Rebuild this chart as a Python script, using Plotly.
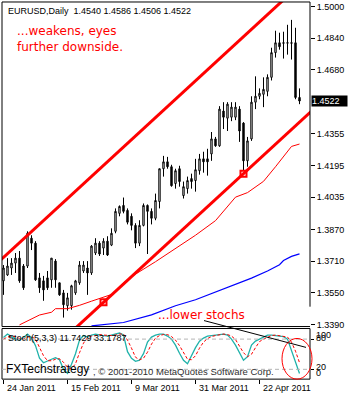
import plotly.graph_objects as go

# ---- EURUSD daily candles (bar index 0 = 24 Jan 2011) ----
opens = [1.3611, 1.3641, 1.3676, 1.3701, 1.3726, 1.3686, 1.3686, 1.3827, 1.3802, 1.3626,
         1.3611, 1.3626, 1.3616, 1.3711, 1.3601, 1.3550, 1.3485, 1.3485, 1.3550, 1.3601,
         1.3661, 1.3676, 1.3651, 1.3752, 1.3802, 1.3777, 1.3812, 1.3792, 1.3862, 1.3953,
         1.3993, 1.3968, 1.3938, 1.3892, 1.3802, 1.3892, 1.3993, 1.3963, 1.3928, 1.4013,
         1.4179, 1.4214, 1.4189, 1.4104, 1.4179, 1.4043, 1.4078, 1.4129, 1.4119, 1.4169,
         1.4229, 1.4229, 1.4254, 1.4330, 1.4295, 1.4471, 1.4435, 1.4440, 1.4440, 1.4481,
         1.4410, 1.4219, 1.4330, 1.4516, 1.4546, 1.4556, 1.4571, 1.4642, 1.4767, 1.4817,
         1.4817, 1.4815, 1.4817, 1.4817, 1.4540]
highs = [1.3691, 1.3726, 1.3726, 1.3752, 1.3762, 1.3696, 1.3862, 1.3842, 1.3812, 1.3651,
         1.3636, 1.3661, 1.3726, 1.3721, 1.3601, 1.3565, 1.3550, 1.3591, 1.3616, 1.3711,
         1.3711, 1.3711, 1.3792, 1.3827, 1.3812, 1.3827, 1.3837, 1.3877, 1.3978, 1.3993,
         1.4033, 1.3978, 1.3953, 1.3903, 1.3918, 1.4003, 1.3998, 1.3978, 1.4053, 1.4179,
         1.4244, 1.4239, 1.4199, 1.4179, 1.4194, 1.4114, 1.4139, 1.4154, 1.4229, 1.4254,
         1.4265, 1.4280, 1.4365, 1.4340, 1.4496, 1.4516, 1.4516, 1.4516, 1.4516, 1.4496,
         1.4415, 1.4340, 1.4546, 1.4647, 1.4586, 1.4642, 1.4657, 1.4792, 1.4878, 1.4868,
         1.4873, 1.4908, 1.4933, 1.4893, 1.4586]
lows = [1.3540, 1.3636, 1.3641, 1.3651, 1.3601, 1.3565, 1.3676, 1.3767, 1.3611, 1.3550,
        1.3510, 1.3565, 1.3576, 1.3576, 1.3535, 1.3425, 1.3460, 1.3465, 1.3540, 1.3591,
        1.3651, 1.3540, 1.3641, 1.3742, 1.3737, 1.3742, 1.3737, 1.3787, 1.3852, 1.3938,
        1.3953, 1.3897, 1.3867, 1.3777, 1.3787, 1.3887, 1.3747, 1.3897, 1.3918, 1.3978,
        1.4139, 1.4179, 1.4088, 1.4078, 1.4088, 1.4028, 1.4053, 1.4078, 1.4063, 1.4149,
        1.4159, 1.4144, 1.4219, 1.4290, 1.4290, 1.4380, 1.4370, 1.4420, 1.4425, 1.4315,
        1.4169, 1.4189, 1.4320, 1.4481, 1.4531, 1.4491, 1.4546, 1.4626, 1.4742, 1.4782,
        1.4737, 1.4757, 1.4732, 1.4531, 1.4506]
closes = [1.3676, 1.3686, 1.3701, 1.3726, 1.3611, 1.3576, 1.3852, 1.3802, 1.3616, 1.3576,
          1.3565, 1.3576, 1.3726, 1.3616, 1.3540, 1.3490, 1.3525, 1.3586, 1.3611, 1.3691,
          1.3691, 1.3651, 1.3787, 1.3802, 1.3747, 1.3812, 1.3742, 1.3852, 1.3963, 1.3988,
          1.3963, 1.3908, 1.3892, 1.3802, 1.3892, 1.3993, 1.3963, 1.3928, 1.4018, 1.4179,
          1.4214, 1.4189, 1.4093, 1.4169, 1.4114, 1.4088, 1.4119, 1.4114, 1.4174, 1.4229,
          1.4214, 1.4214, 1.4330, 1.4295, 1.4481, 1.4440, 1.4506, 1.4491, 1.4491, 1.4370,
          1.4219, 1.4320, 1.4516, 1.4546, 1.4561, 1.4581, 1.4642, 1.4767, 1.4817, 1.4797,
          1.4815, 1.4817, 1.4815, 1.4540, 1.4522]
bar_idx = list(range(len(closes)))

date_tick_idx = [0, 16, 32, 48, 64]
date_tick_labels = ["24 Jan 2011", "15 Feb 2011", "9 Mar 2011", "31 Mar 2011", "22 Apr 2011"]
price_ticks = [1.5000, 1.4840, 1.4680, 1.4355, 1.4195, 1.4035, 1.3870, 1.3710, 1.3550, 1.3390]

# ---- moving averages ----
ma_fast_idx = [4, 8, 9, 12, 13, 16, 19, 22, 27, 30, 33, 38, 43, 48, 53, 58, 61, 65, 68, 72, 74]
ma_fast = [1.3388, 1.3427, 1.3438, 1.3452, 1.3470, 1.3470, 1.3487, 1.3508, 1.3542, 1.3601,
           1.3645, 1.3708, 1.3777, 1.3842, 1.3916, 1.4035, 1.4058, 1.4115, 1.4189, 1.4292, 1.4304]
ma_slow_idx = [22, 30, 37, 43, 48, 54, 57, 62, 66, 69, 70, 72, 74]
ma_slow = [1.3383, 1.3400, 1.3439, 1.3485, 1.3515, 1.3562, 1.3586, 1.3625, 1.3661, 1.3693,
           1.3714, 1.3735, 1.3748]

# ---- price channel: lower line through two anchors, upper line parallel ----
channel_idx = [25, 60]
channel_lower = [1.3502, 1.4154]
channel_width = 0.0694

# ---- Stochastic(5,3,3) ----
stoch_k = [83, 90, 85, 80, 78, 83, 90, 83, 67, 42,
           33, 37, 40, 43, 39, 20, 12, 30, 51, 78,
           87, 84, 88, 90, 88, 87, 86, 88, 90, 92,
           88, 55, 42, 36, 38, 51, 74, 84, 88, 90,
           90, 86, 80, 68, 52, 38, 31, 48, 63, 76,
           82, 86, 87, 89, 90, 90, 88, 80, 68, 52,
           38, 45, 68, 76, 80, 85, 88, 88, 87, 86,
           85, 80, 57, 31, 11.7429]
stoch_d = [80, 84, 86, 85, 81, 80, 84, 85, 80, 64,
           47, 37, 37, 40, 41, 34, 24, 21, 31, 53,
           72, 83, 86, 87, 89, 88, 87, 87, 88, 90,
           90, 78, 62, 44, 39, 42, 54, 70, 82, 87,
           89, 89, 85, 78, 67, 53, 40, 39, 47, 62,
           74, 81, 85, 87, 89, 90, 89, 86, 79, 67,
           53, 45, 50, 63, 75, 80, 84, 87, 88, 87,
           86, 84, 74, 56, 33.1787]
stoch_levels = [80, 20]

W, H = 350, 400


def fx(px):
    return px / W


def fy(py):
    return 1 - py / H


AXIS_FONT = dict(family="Liberation Sans, Arial, sans-serif", size=9, color="black")
NOTE_FONT = dict(family="DejaVu Sans, sans-serif", size=12, color="#ff0000")

fig = go.Figure()

fig.add_trace(go.Candlestick(
    x=bar_idx, open=opens, high=highs, low=lows, close=closes,
    increasing=dict(line=dict(color="black", width=1), fillcolor="white"),
    decreasing=dict(line=dict(color="black", width=1), fillcolor="black"),
    whiskerwidth=0, xaxis="x", yaxis="y", hoverinfo="skip",
))

# channel lines extended over the whole visible range
slope = (channel_lower[1] - channel_lower[0]) / (channel_idx[1] - channel_idx[0])
ext_x = [-2, 80]
lower_y = [channel_lower[0] + slope * (x - channel_idx[0]) for x in ext_x]
upper_y = [y + channel_width for y in lower_y]
for ys in (lower_y, upper_y):
    fig.add_trace(go.Scatter(x=ext_x, y=ys, mode="lines",
                             line=dict(color="#ff0000", width=3),
                             xaxis="x", yaxis="y", hoverinfo="skip"))

fig.add_trace(go.Scatter(x=ma_fast_idx, y=ma_fast, mode="lines",
                         line=dict(color="#ff0000", width=1), xaxis="x", yaxis="y"))
fig.add_trace(go.Scatter(x=ma_slow_idx, y=ma_slow, mode="lines",
                         line=dict(color="#0000ff", width=1.2), xaxis="x", yaxis="y"))

fig.add_trace(go.Scatter(x=channel_idx, y=channel_lower, mode="markers",
                         marker=dict(symbol="square-open", size=6,
                                     line=dict(color="#ff0000", width=2), color="#ff0000"),
                         xaxis="x", yaxis="y"))

fig.add_trace(go.Scatter(x=bar_idx, y=stoch_k, mode="lines",
                         line=dict(color="#20b2aa", width=1.3), xaxis="x", yaxis="y2"))
fig.add_trace(go.Scatter(x=bar_idx, y=stoch_d, mode="lines",
                         line=dict(color="#ff0000", width=1, dash="3px,2px"),
                         xaxis="x", yaxis="y2"))

shapes = []
# panel frames
shapes.append(dict(type="line", xref="paper", yref="paper", x0=fx(2), x1=fx(310),
                   y0=fy(2), y1=fy(2), line=dict(color="black", width=1)))
shapes.append(dict(type="line", xref="paper", yref="paper", x0=fx(2), x1=fx(2),
                   y0=fy(2), y1=fy(329), line=dict(color="black", width=1)))
shapes.append(dict(type="line", xref="paper", yref="paper", x0=fx(2), x1=fx(310),
                   y0=fy(329), y1=fy(329), line=dict(color="black", width=1)))
shapes.append(dict(type="line", xref="paper", yref="paper", x0=fx(310), x1=fx(310),
                   y0=fy(2), y1=fy(309), line=dict(color="black", width=1)))
shapes.append(dict(type="rect", xref="paper", yref="paper", x0=fx(2), x1=fx(310),
                   y0=fy(382), y1=fy(331), line=dict(color="black", width=1)))
# stochastic levels
for lv in stoch_levels:
    shapes.append(dict(type="line", xref="paper", yref="y2", x0=fx(2), x1=fx(310),
                       y0=lv, y1=lv, line=dict(color="#b4b4b4", width=1, dash="4px,3px")))
# hand-drawn stochastic trendline and circle
shapes.append(dict(type="line", xref="paper", yref="paper", x0=fx(204), y0=fy(323),
                   x1=fx(306), y1=fy(350), line=dict(color="black", width=1)))
shapes.append(dict(type="circle", xref="paper", yref="paper", x0=fx(282), x1=fx(312),
                   y0=fy(382), y1=fy(341), line=dict(color="#ff0000", width=1)))

annotations = []
annotations.append(dict(
    text=f"EURUSD,Daily  {opens[-1]:.4f} {highs[-1]:.4f} {lows[-1]:.4f} {closes[-1]:.4f}",
    xref="paper", yref="paper", x=fx(6), y=fy(11), xanchor="left", yanchor="middle",
    showarrow=False, font=AXIS_FONT))
annotations.append(dict(text="...weakens, eyes<br>further downside.", xref="paper", yref="paper",
                        x=fx(15), y=fy(39), xanchor="left", yanchor="middle", align="left",
                        showarrow=False, font=NOTE_FONT))
annotations.append(dict(text="...lower stochs", xref="paper", yref="paper",
                        x=fx(156), y=fy(317), xanchor="left", yanchor="middle",
                        showarrow=False, font=NOTE_FONT))
annotations.append(dict(text=f"Stoch(5,3,3) {stoch_k[-1]:.4f} {stoch_d[-1]:.4f}",
                        xref="paper", yref="paper", x=fx(6), y=fy(341), xanchor="left",
                        yanchor="middle", showarrow=False, font=AXIS_FONT))
annotations.append(dict(text="FXTechstrategy", xref="paper", yref="paper", x=fx(4), y=fy(372),
                        xanchor="left", yanchor="middle", showarrow=False,
                        font=dict(family="Liberation Sans, Arial, sans-serif", size=12,
                                  color="black")))
annotations.append(dict(text=", \u00a9 2001-2010 MetaQuotes Software Corp.", xref="paper",
                        yref="paper", x=fx(91), y=fy(374), xanchor="left", yanchor="middle",
                        showarrow=False,
                        font=dict(family="Liberation Sans, Arial, sans-serif", size=9.5,
                                  color="#303030")))
# current price marker on the price scale
annotations.append(dict(text=f"{closes[-1]:.4f}", xref="paper", yref="y", x=fx(311),
                        y=closes[-1], xanchor="left", yanchor="middle", showarrow=False,
                        bgcolor="black", width=35, height=10, align="left", borderpad=0,
                        font=dict(family="Liberation Sans, Arial, sans-serif", size=9,
                                  color="white")))
# stochastic scale labels (the platform draws them overlapping in pairs)
for txt, py in (("100", 338), ("80", 341), ("20", 370), ("0", 376)):
    annotations.append(dict(text=txt, xref="paper", yref="paper", x=fx(314), y=fy(py),
                            xanchor="left", yanchor="middle", showarrow=False, font=AXIS_FONT))
# date labels, left-aligned at their ticks
for i, lab in zip(date_tick_idx, date_tick_labels):
    annotations.append(dict(text=lab, xref="x", yref="paper", x=i, y=fy(391),
                            xanchor="left", yanchor="middle", xshift=1, showarrow=False,
                            font=AXIS_FONT))

fig.update_layout(
    width=W, height=H, autosize=False,
    margin=dict(l=0, r=0, t=0, b=0, pad=0),
    paper_bgcolor="white", plot_bgcolor="white",
    showlegend=False,
    boxgap=0.5,
    xaxis=dict(domain=[fx(2), fx(310)], range=[-0.375, 76.625], anchor="y2",
               tickmode="array", tickvals=date_tick_idx, ticks="outside", ticklen=4,
               tickcolor="black", showticklabels=False, showgrid=False, zeroline=False,
               showline=False, rangeslider=dict(visible=False)),
    yaxis=dict(domain=[fy(329), fy(2)], range=[1.33796, 1.50236], side="right", anchor="x",
               tickmode="array", tickvals=price_ticks,
               ticktext=[f"{v:.4f}" for v in price_ticks],
               ticks="outside", ticklen=4, tickcolor="black", tickfont=AXIS_FONT,
               showgrid=False, zeroline=False, showline=False),
    yaxis2=dict(domain=[fy(382), fy(331)], range=[0.5, 101], side="right", anchor="x",
                tickmode="array", tickvals=stoch_levels, ticks="outside", ticklen=3,
                tickcolor="black", showticklabels=False, showgrid=False, zeroline=False,
                showline=False),
    shapes=shapes,
    annotations=annotations,
)

fig.write_html("out.html")
